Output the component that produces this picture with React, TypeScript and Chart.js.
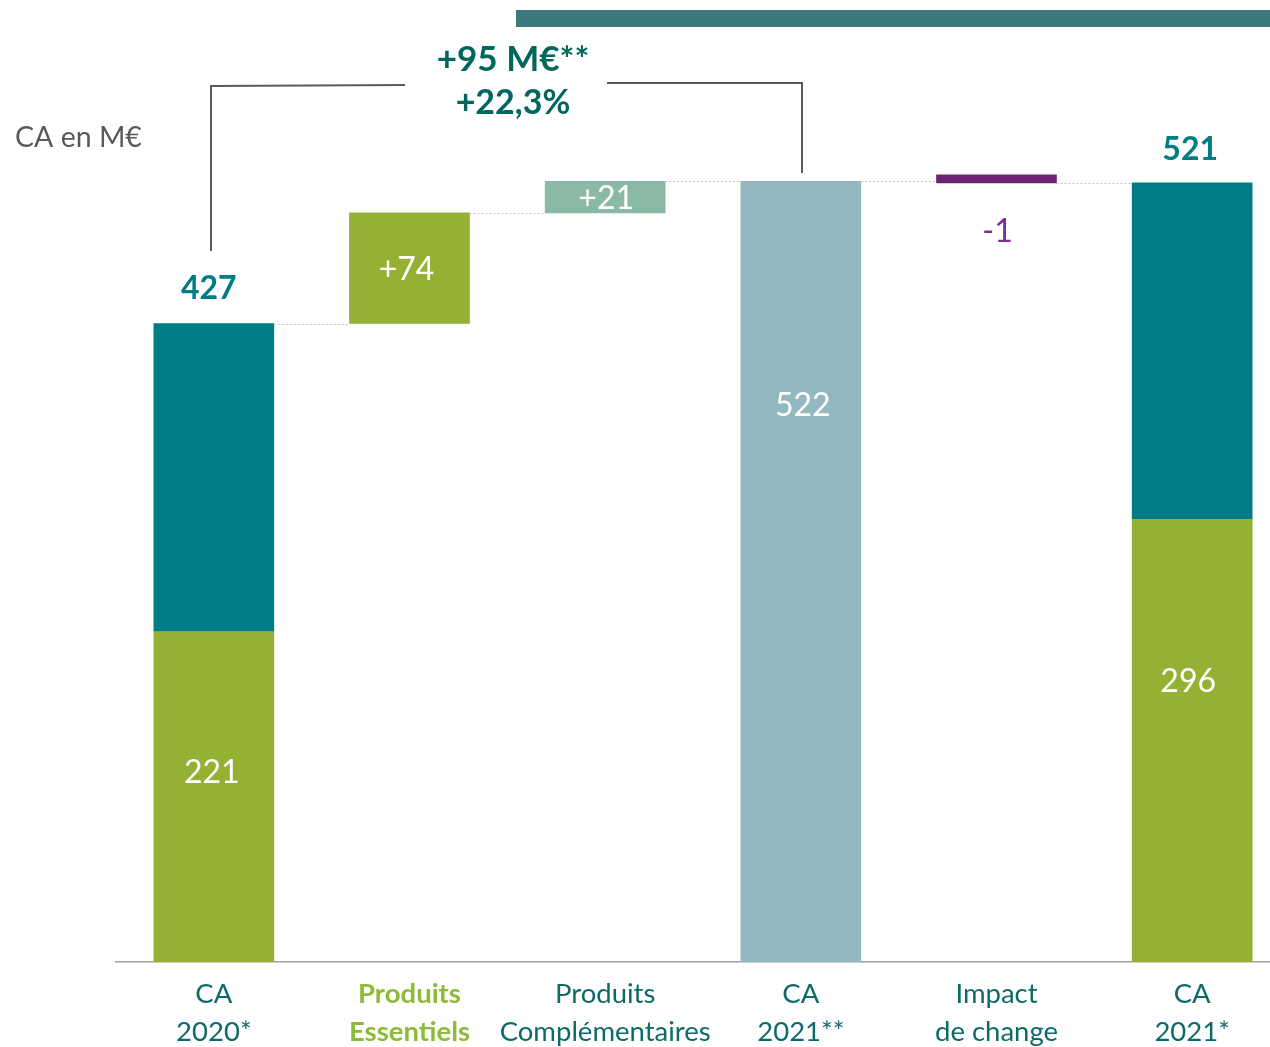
import React, { useEffect, useRef } from 'react';
import { Chart, registerables } from 'chart.js';

Chart.register(...registerables);

const categories: string[][] = [
  ['CA', '2020*'],
  ['Produits', 'Essentiels'],
  ['Produits', 'Complémentaires'],
  ['CA', '2021**'],
  ['Impact', 'de change'],
  ['CA', '2021*'],
];
const caTotals = [427, 521]; // CA 2020*, CA 2021*
const essentielsShare = [221, 296]; // lower (green) part of CA 2020* / CA 2021*
const variations = [74, 21, -1]; // Produits Essentiels, Produits Complémentaires, Impact de change
const caConstant = 522; // CA 2021**
const growthLabels = ['+95 M€**', '+22,3%'];
const unitLabel = 'CA en M€';

const TEAL = '#007c85';
const GREEN = '#95b134';
const LIGHT_GREEN = '#8ab9a5';
const BLUE_GREY = '#94b8c0';
const PURPLE = '#6c2472';
const TICK_COLOR = '#0e6a6a';
const FONT = 'Lato, "Open Sans", sans-serif';

const afterEss = caTotals[0] + variations[0];
const afterComp = afterEss + variations[1];
const afterChange = caConstant + variations[2];

const baseData: any[] = [
  [0, essentielsShare[0]],
  [caTotals[0], afterEss],
  [afterEss, afterComp],
  [0, caConstant],
  [afterChange, caConstant],
  [0, essentielsShare[1]],
];
const topData: any[] = [
  [essentielsShare[0], caTotals[0]],
  null,
  null,
  null,
  null,
  [essentielsShare[1], caTotals[1]],
];
const baseColors = [GREEN, GREEN, LIGHT_GREEN, BLUE_GREY, PURPLE, GREEN];
const baseLabels = [
  String(essentielsShare[0]),
  '+' + variations[0],
  '+' + variations[1],
  String(caConstant),
  String(variations[2]),
  String(essentielsShare[1]),
];
const connectorLevels = [caTotals[0], afterEss, afterComp, caConstant, afterChange];

const overlayPlugin = {
  id: 'overlay',
  afterDatasetsDraw(chart: any) {
    const ctx = chart.ctx;
    const y = chart.scales.y;
    const base = chart.getDatasetMeta(0).data;
    const top = chart.getDatasetMeta(1).data;
    ctx.save();

    // dotted connectors
    ctx.strokeStyle = '#c4c4c4';
    ctx.lineWidth = 1;
    ctx.setLineDash([2, 2]);
    for (let i = 0; i < connectorLevels.length; i++) {
      const yy = Math.round(y.getPixelForValue(connectorLevels[i])) + 0.5;
      const x1 = base[i].x + 60;
      const x2 = base[i + 1].x - 60;
      ctx.beginPath();
      ctx.moveTo(x1, yy);
      ctx.lineTo(x2, yy);
      ctx.stroke();
    }
    ctx.setLineDash([]);

    // labels inside / near bars
    const dy = [141, 57, 17, 224, 49, 162];
    const dx = [-2, -3, 1, 2, 1, -4];
    ctx.textAlign = 'center';
    ctx.textBaseline = 'middle';
    ctx.font = `32px ${FONT}`;
    for (let i = 0; i < base.length; i++) {
      const el = base[i];
      ctx.fillStyle = i === 4 ? '#7a2d97' : '#ffffff';
      const ref = i === 4 ? Math.max(el.y, el.base) : Math.min(el.y, el.base);
      ctx.fillText(baseLabels[i], el.x + dx[i], ref + dy[i]);
    }

    // totals above stacked bars
    ctx.font = `bold 32px ${FONT}`;
    ctx.fillStyle = TEAL;
    ctx.fillText(String(caTotals[0]), top[0].x - 5, top[0].y - 35);
    ctx.fillText(String(caTotals[1]), top[5].x - 2, top[5].y - 33);

    // growth bracket
    ctx.strokeStyle = '#5a5a5a';
    ctx.lineWidth = 2;
    const bx0 = Math.round(base[0].x) - 3;
    const bx3 = Math.round(base[3].x) + 1;
    ctx.beginPath();
    ctx.moveTo(bx0, 251);
    ctx.lineTo(bx0, 86);
    ctx.lineTo(405, 85);
    ctx.stroke();
    ctx.beginPath();
    ctx.moveTo(607, 83);
    ctx.lineTo(bx3, 83);
    ctx.lineTo(bx3, 173);
    ctx.stroke();

    ctx.fillStyle = '#00675f';
    ctx.font = `bold 35px ${FONT}`;
    ctx.fillText(growthLabels[0], 513, 60);
    ctx.font = `bold 34px ${FONT}`;
    ctx.fillText(growthLabels[1], 513, 103);

    // unit label
    ctx.fillStyle = '#595959';
    ctx.font = `28.5px ${FONT}`;
    ctx.textAlign = 'left';
    ctx.fillText(unitLabel, 15, 138);

    // top decorative band
    ctx.fillStyle = '#3b797a';
    ctx.fillRect(516, 10, 800, 17);

    ctx.restore();
  },
};

export default function App() {
  const ref = useRef<HTMLCanvasElement | null>(null);
  useEffect(() => {
    if (!ref.current) return;
    const chart = new Chart(ref.current, {
      type: 'bar',
      data: {
        labels: categories,
        datasets: [
          {
            data: baseData,
            backgroundColor: baseColors,
            barThickness: 120,
            grouped: false,
            minBarLength: 8,
            borderWidth: 0,
          } as any,
          {
            data: topData,
            backgroundColor: TEAL,
            barThickness: 120,
            grouped: false,
            borderWidth: 0,
          } as any,
        ],
      },
      options: {
        animation: false,
        responsive: true,
        maintainAspectRatio: false,
        layout: { padding: { top: 5, left: 116, right: 10, bottom: 0 } },
        plugins: {
          legend: { display: false },
          tooltip: { enabled: false },
        },
        scales: {
          x: {
            grid: { display: false },
            border: { display: true, color: '#a0a0a0', width: 1.5 },
            ticks: {
              padding: 6,
              autoSkip: false,
              maxRotation: 0,
              color: (c: any) => (c.index === 1 ? '#8cbb37' : TICK_COLOR),
              font: (c: any) => ({
                family: FONT,
                size: 27.5,
                weight: c.index === 1 ? 'bold' : 'normal',
                lineHeight: 1.35,
              }),
            },
            afterFit: (s: any) => {
              s.height = 85;
            },
          },
          y: {
            display: false,
            min: 0,
            max: 640,
          },
        },
      },
      plugins: [overlayPlugin],
    });
    return () => chart.destroy();
  }, []);
  return (
    <div style={{ position: 'absolute', left: 0, top: 0, width: 1270, height: 1047, overflow: 'hidden', background: '#fff' }}>
      <div style={{ position: 'relative', width: 1300, height: 1047 }}>
        <canvas ref={ref} />
      </div>
    </div>
  );
}
